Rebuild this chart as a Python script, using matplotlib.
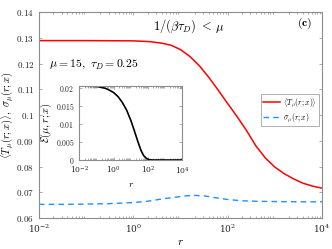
import numpy as np
import matplotlib
matplotlib.use("Agg")
import matplotlib.pyplot as plt
from matplotlib.ticker import FuncFormatter, LogLocator, NullFormatter

plt.rcParams['mathtext.fontset'] = 'cm'
plt.rcParams['font.family'] = ['DejaVu Serif']

# ---- data (exponents of r and values) ----
red_logr = [-2, -1, 0, 0.35, 0.6, 0.8, 1.0, 1.2, 1.4, 1.6, 1.8, 2.0, 2.2, 2.4, 2.6, 2.8, 3.0, 3.2, 3.4, 3.6, 3.8, 4.0]
red_vals = [0.1290, 0.1290, 0.1289, 0.1286, 0.1280, 0.1272, 0.1255, 0.1228, 0.1192, 0.1147, 0.1097, 0.1045,
            0.0994, 0.0940, 0.0880, 0.0833, 0.0798, 0.0772, 0.0752, 0.0735, 0.0724, 0.0716]

blue_logr = [-2, -1.5, -1, -0.5, 0, 0.3, 0.6, 0.9, 1.1, 1.3, 1.5, 1.7, 2.0, 2.3, 2.6, 3.0, 3.5, 4.0]
blue_vals = [0.0653, 0.0653, 0.0654, 0.0656, 0.0660, 0.0665, 0.0674, 0.0681, 0.0686, 0.0688, 0.0686, 0.0680,
             0.0672, 0.0667, 0.0665, 0.0664, 0.0663, 0.0663]

ins_logr = [-2, -1, -0.5, -0.3, 0, 0.25, 0.5, 0.75, 1.0, 1.2, 1.44, 1.6, 1.75, 1.9, 2.05, 2.3, 3, 4]
ins_vals = [0.0205, 0.0204, 0.0199, 0.0195, 0.0187, 0.0176, 0.0160, 0.0139, 0.0110, 0.0082, 0.0047, 0.0026,
            0.0012, 0.0005, 0.0001, 0.0, 0.0, 0.0]

main_yticks = [0.06, 0.07, 0.08, 0.09, 0.1, 0.11, 0.12, 0.13, 0.14]
ins_yticks = [0, 0.005, 0.01, 0.015, 0.02]
xticks = [1e-2, 1e0, 1e2, 1e4]

red_r = 10.0 ** np.array(red_logr)
blue_r = 10.0 ** np.array(blue_logr)
ins_r = 10.0 ** np.array(ins_logr)

gray = '#8c8c8c'
fmt = FuncFormatter(lambda v, p: r'$%g$' % v)

def style(ax, size):
    ax.set_xscale('log')
    for s in ax.spines.values():
        s.set_color(gray)
        s.set_linewidth(0.8)
    ax.tick_params(which='both', direction='in', top=True, right=True, colors=gray,
                   labelcolor='#262626', labelsize=size, width=0.5)
    ax.tick_params(which='major', length=2.5)
    ax.tick_params(which='minor', length=1.3)
    ax.xaxis.set_minor_locator(LogLocator(base=10, subs=np.arange(2, 10), numticks=20))
    ax.xaxis.set_minor_formatter(NullFormatter())
    ax.set_xticks(xticks)
    ax.yaxis.set_major_formatter(fmt)

fig = plt.figure(figsize=(3.32, 2.49), dpi=100)
ax = fig.add_axes([0.1175, 0.1245, 0.8525, 0.826])
style(ax, 6.5)
ax.plot(red_r, red_vals, color='#ff0000', lw=1.1, label=r'$\langle T_\mu(r;x)\rangle$')
ax.plot(blue_r, blue_vals, color='#1e90ff', lw=1.0, ls=(0, (4, 3)), label=r'$\sigma_\mu(r;x)$')
ax.set_xlim(1e-2, 1e4)
ax.set_ylim(0.06, 0.14)
ax.set_yticks(main_yticks)
ax.set_xlabel(r'$r$', fontsize=8, labelpad=1)
ax.set_ylabel(r'$\langle T_\mu(r;x)\rangle,\ \sigma_\mu(r;x)$', fontsize=7.5, labelpad=0.5)

ax.text(0.53, 0.935, r'$1/(\beta\tau_D) \;<\; \mu$', transform=ax.transAxes, ha='center', va='center', fontsize=9)
ax.text(0.965, 0.945, r'$\mathbf{(c)}$', transform=ax.transAxes, ha='right', va='center', fontsize=8.5)
ax.text(0.035, 0.745, r'$\mu = 15,\ \tau_D = 0.25$', transform=ax.transAxes, ha='left', va='center', fontsize=8.5)

leg = ax.legend(loc='center right', bbox_to_anchor=(0.99, 0.525), fontsize=5.5, frameon=True, fancybox=False,
                edgecolor=gray, handlelength=2.2, handletextpad=0.4, borderpad=0.3, labelspacing=0.2,
                borderaxespad=0.0)
leg.get_frame().set_linewidth(0.6)

axi = fig.add_axes([0.239, 0.3574, 0.310, 0.2984])
style(axi, 5.5)
axi.plot(ins_r, ins_vals, color='black', lw=1.2)
axi.set_xlim(1e-2, 1e4)
axi.set_ylim(0, 0.0206)
axi.set_yticks(ins_yticks)
axi.set_xlabel(r'$r$', fontsize=7, labelpad=3)
axi.set_ylabel(r'$\mathcal{E}(\mu,r;x)$', fontsize=7.5, labelpad=1)

fig.savefig('out.png', dpi=100)
